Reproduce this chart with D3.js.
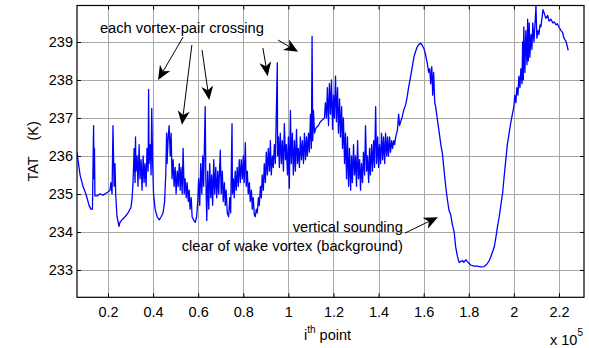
<!DOCTYPE html>
<html><head><meta charset="utf-8">
<script src="https://cdn.jsdelivr.net/npm/d3@7"></script>
<style>
html,body{margin:0;padding:0;background:#fff;}
svg text{font-family:"Liberation Sans",Arial,Helvetica,sans-serif;fill:#000;}
</style></head><body>
<svg id="chart" width="589" height="348"></svg>
<script>
// i-th point (in units of 1e5)
const pointIdx = [
0.062,0.067,0.076,0.089,0.102,0.116,0.124,0.131,0.136,0.138,0.140,0.142,0.151,0.164,0.178,0.191,0.200,0.209,0.213,0.218,
0.222,0.227,0.231,0.234,0.240,0.249,0.253,0.262,0.276,0.289,0.302,0.307,0.311,0.316,0.320,0.322,0.324,0.329,0.333,0.338,
0.342,0.347,0.351,0.356,0.360,0.364,0.369,0.373,0.378,0.380,0.382,0.387,0.391,0.394,0.398,0.402,0.409,0.418,0.427,0.436,
0.444,0.451,0.456,0.460,0.462,0.467,0.471,0.476,0.480,0.484,0.489,0.493,0.498,0.502,0.507,0.511,0.516,0.520,0.524,0.529,
0.533,0.538,0.542,0.547,0.551,0.556,0.560,0.564,0.569,0.573,0.579,0.587,0.593,0.598,0.602,0.607,0.611,0.616,0.620,0.624,
0.631,0.634,0.638,0.642,0.647,0.651,0.656,0.660,0.664,0.669,0.673,0.678,0.682,0.687,0.691,0.698,0.702,0.707,0.711,0.716,
0.720,0.724,0.729,0.735,0.740,0.744,0.750,0.752,0.756,0.760,0.764,0.769,0.773,0.778,0.782,0.787,0.791,0.796,0.800,0.804,
0.809,0.813,0.818,0.822,0.827,0.831,0.836,0.840,0.844,0.849,0.853,0.858,0.862,0.867,0.871,0.876,0.880,0.884,0.889,0.893,
0.898,0.902,0.907,0.911,0.916,0.920,0.924,0.929,0.933,0.938,0.942,0.951,0.952,0.956,0.960,0.964,0.969,0.973,0.978,0.982,
0.987,0.991,0.996,1.000,1.004,1.009,1.013,1.018,1.022,1.027,1.031,1.036,1.040,1.044,1.049,1.053,1.058,1.062,1.067,1.071,
1.076,1.080,1.084,1.089,1.093,1.098,1.102,1.105,1.108,1.111,1.116,1.120,1.124,1.133,1.142,1.151,1.160,1.164,1.169,1.173,
1.178,1.182,1.187,1.191,1.196,1.200,1.204,1.209,1.213,1.218,1.222,1.227,1.231,1.236,1.240,1.244,1.249,1.253,1.258,1.262,
1.267,1.271,1.276,1.280,1.284,1.289,1.293,1.298,1.302,1.307,1.311,1.316,1.320,1.324,1.329,1.333,1.338,1.342,1.347,1.351,
1.356,1.360,1.364,1.369,1.373,1.378,1.382,1.387,1.391,1.396,1.400,1.404,1.409,1.413,1.418,1.422,1.427,1.431,1.436,1.440,
1.444,1.449,1.453,1.458,1.462,1.467,1.471,1.476,1.484,1.489,1.493,1.498,1.505,1.511,1.520,1.527,1.533,1.542,1.551,1.557,
1.564,1.572,1.578,1.587,1.593,1.601,1.609,1.616,1.622,1.627,1.631,1.636,1.640,1.644,1.649,1.653,1.661,1.667,1.676,1.683,
1.689,1.698,1.704,1.712,1.720,1.727,1.735,1.742,1.750,1.757,1.764,1.772,1.778,1.787,1.796,1.809,1.822,1.836,1.853,1.868,
1.880,1.892,1.904,1.913,1.920,1.929,1.935,1.942,1.950,1.956,1.964,1.971,1.979,1.987,1.994,2.000,2.004,2.009,2.013,2.018,
2.022,2.027,2.031,2.036,2.039,2.042,2.044,2.049,2.053,2.058,2.061,2.064,2.068,2.071,2.076,2.080,2.084,2.089,2.093,2.098,
2.102,2.107,2.111,2.116,2.120,2.124,2.129,2.135,2.142,2.150,2.156,2.164,2.173,2.179,2.187,2.193,2.201,2.209,2.216,2.222,
2.231,2.236,2.241
];
// TAT (K)
const tat = [
236.1,235.9,235.5,235.2,235.0,234.7,234.6,234.6,236.8,235.4,236.2,234.95,234.95,235.0,234.97,235.02,235.05,235.1,235.3,235.0,
236.8,235.2,235.8,235.0,234.4,234.15,234.25,234.32,234.4,234.5,234.65,234.9,235.3,236.2,235.3,236.5,235.6,236.0,235.2,236.3,
235.4,235.9,235.1,236.0,235.3,235.8,235.2,236.2,235.6,237.75,235.8,236.3,235.5,237.25,235.8,235.0,234.6,234.4,234.32,234.4,
234.5,234.8,235.5,236.6,235.8,236.5,236.8,236.0,236.6,235.4,235.9,235.2,235.7,235.0,235.6,235.2,235.8,235.1,235.7,235.0,
236.2,235.0,235.4,234.9,235.3,234.8,235.1,234.6,234.9,234.4,234.32,234.25,234.4,234.8,235.4,234.7,235.8,235.0,236.0,235.2,
237.3,235.4,234.3,235.6,234.6,235.8,234.9,235.5,234.7,235.9,235.0,235.7,234.9,235.6,235.0,236.15,235.0,235.6,234.8,235.3,
234.7,235.1,234.5,234.4,234.9,234.5,236.85,235.0,235.4,234.9,235.6,235.1,235.7,235.2,235.9,235.3,235.9,235.4,236.0,235.3,
236.35,235.2,235.6,235.0,235.3,234.8,235.1,234.6,234.9,234.45,234.4,234.6,234.5,234.9,234.7,235.2,234.9,235.5,235.1,235.8,
235.3,236.1,235.5,236.2,235.6,236.4,235.5,236.0,235.7,236.3,235.8,238.45,236.0,236.5,235.7,236.6,235.8,236.4,235.6,236.85,
235.9,236.3,235.5,236.5,235.15,237.2,235.8,236.6,235.5,236.4,235.6,236.7,235.8,236.2,235.7,236.5,235.9,236.4,235.8,236.6,
235.9,236.5,236.0,236.6,236.1,237.1,236.2,239.15,236.4,237.2,236.6,236.7,236.75,236.8,236.9,236.95,237.0,237.4,237.0,237.8,
236.8,237.9,237.1,238.0,236.7,237.6,237.0,238.1,236.9,237.8,236.6,237.5,236.5,237.3,236.2,237.0,235.8,236.6,235.4,236.5,
235.2,236.2,235.1,236.0,235.3,236.3,235.5,236.0,235.2,236.4,235.4,235.9,235.1,235.8,235.3,236.1,235.5,236.8,235.6,236.0,
235.3,236.2,235.5,236.3,235.6,236.4,235.7,237.3,235.8,236.5,235.7,236.3,235.8,236.6,235.9,236.5,235.8,236.6,236.0,236.5,
236.0,236.5,236.1,236.4,236.2,236.4,236.3,236.5,236.7,237.1,236.8,236.9,237.03,237.2,237.35,237.56,237.8,238.09,238.4,238.61,
238.75,238.88,238.93,238.97,238.92,238.83,238.65,238.44,238.2,238.3,237.9,238.35,237.6,238.2,237.4,237.3,236.95,236.7,236.3,236.07,
235.7,235.19,234.9,234.58,234.45,234.2,234.0,233.6,233.35,233.2,233.22,233.25,233.2,233.27,233.2,233.13,233.1,233.1,233.08,233.09,
233.15,233.26,233.45,233.61,233.85,234.2,234.4,234.7,235.02,235.4,235.89,236.3,236.6,236.9,237.12,237.3,237.6,237.4,237.8,237.6,
238.1,237.8,238.3,237.9,239.0,238.0,239.4,238.2,239.3,238.4,239.6,238.5,239.5,238.6,239.2,238.8,239.5,239.0,239.4,239.95,
239.1,239.3,239.2,239.45,239.4,239.6,239.85,239.75,239.62,239.7,239.55,239.6,239.5,239.53,239.45,239.48,239.38,239.3,239.25,239.1,
239.02,238.9,238.78
];
const xTicks = [0.2,0.4,0.6,0.8,1,1.2,1.4,1.6,1.8,2,2.2];
const yTicks = [233,234,235,236,237,238,239];
const xDomain = [0.0625, 2.311];
const yDomain = [232.28, 239.96];

// annotation arrows (data coordinates): start -> tip
const arrowStart = [[0.533,239.13],[0.572,238.92],[0.617,238.79],[0.887,238.84],[0.954,239.05],[1.517,233.97]];
const arrowTip   = [[0.422,238.0],[0.528,236.82],[0.649,237.47],[0.908,238.1],[1.043,238.74],[1.663,234.39]];
const labelTop = "each vortex-pair crossing";
const labelBottom = ["vertical sounding","clear of wake vortex (background)"];

const svg = d3.select("#chart");
const L = 77, R = 584, T = 5.5, B = 297.3;
const x = d3.scaleLinear().domain(xDomain).range([L, R]);
const y = d3.scaleLinear().domain(yDomain).range([B, T]);

// grid
const grid = svg.append("g").attr("stroke","#a8a8a8").attr("stroke-width",1).attr("shape-rendering","crispEdges");
grid.selectAll(".gx").data(xTicks).enter().append("line")
  .attr("x1",d=>Math.round(x(d))+0.5).attr("x2",d=>Math.round(x(d))+0.5).attr("y1",T).attr("y2",B);
grid.selectAll(".gy").data(yTicks).enter().append("line")
  .attr("y1",d=>Math.round(y(d))+0.5).attr("y2",d=>Math.round(y(d))+0.5).attr("x1",L).attr("x2",R);

// data line
svg.append("clipPath").attr("id","clip").append("rect").attr("x",L).attr("y",T).attr("width",R-L).attr("height",B-T);
const pts = pointIdx.map((v,i)=>[v,tat[i]]);
svg.append("path").datum(pts).attr("clip-path","url(#clip)")
  .attr("fill","none").attr("stroke","#0000ff").attr("stroke-width",1.3).attr("stroke-linejoin","round")
  .attr("d", d3.line().x(d=>x(d[0])).y(d=>y(d[1])));

// axes
const fs = "14.5px";
const ax = svg.append("g").attr("transform",`translate(0,${B})`)
  .call(d3.axisBottom(x).tickValues(xTicks).tickSizeInner(-4).tickSizeOuter(0).tickPadding(9).tickFormat(d3.format("~g")));
const ay = svg.append("g").attr("transform",`translate(${L},0)`)
  .call(d3.axisLeft(y).tickValues(yTicks).tickSizeInner(-4).tickSizeOuter(0).tickPadding(4).tickFormat(d3.format("d")));
const at = svg.append("g").attr("transform",`translate(0,${T})`)
  .call(d3.axisTop(x).tickValues(xTicks).tickSizeInner(-4).tickSizeOuter(0).tickFormat(""));
const ar = svg.append("g").attr("transform",`translate(${R},0)`)
  .call(d3.axisRight(y).tickValues(yTicks).tickSizeInner(-4).tickSizeOuter(0).tickFormat(""));
[ax,ay,at,ar].forEach(g=>{
  g.select(".domain").remove();
  g.selectAll("line").attr("stroke","#000");
  g.selectAll("text").style("font-size",fs).style("font-family",'"Liberation Sans",Arial,sans-serif').attr("fill","#000");
});
svg.append("rect").attr("x",L).attr("y",T).attr("width",R-L).attr("height",B-T)
  .attr("fill","none").attr("stroke","#000").attr("stroke-width",1.2);

// axis labels
svg.append("text").attr("transform",`translate(38,${(T+B)/2}) rotate(-90)`)
  .attr("text-anchor","middle").style("font-size",fs).style("white-space","pre").text("TAT    (K)");
const xl = svg.append("text").attr("x",(L+R)/2 - 3).attr("y",340).attr("text-anchor","middle").style("font-size",fs);
xl.append("tspan").text("i");
xl.append("tspan").attr("dy",-7).style("font-size","10px").text("th");
xl.append("tspan").attr("dy",7).text(" point");
const xm = svg.append("text").attr("x",R-1).attr("y",345).attr("text-anchor","end").style("font-size",fs);
xm.append("tspan").text("x 10");
xm.append("tspan").attr("dy",-9).style("font-size","10px").text("5");

// annotations
const afs = "14.7px";
svg.append("text").attr("x",x(0.164)).attr("y",y(239.23)).style("font-size",afs).text(labelTop);
svg.append("text").attr("x",x(1.508)).attr("y",y(234.0)).attr("text-anchor","end").style("font-size",afs).text(labelBottom[0]);
svg.append("text").attr("x",x(1.508)).attr("y",y(233.51)).attr("text-anchor","end").style("font-size",afs).text(labelBottom[1]);

const ag = svg.append("g");
arrowStart.forEach((s,i)=>{
  const t = arrowTip[i];
  const sx=x(s[0]), sy=y(s[1]), tx=x(t[0]), ty=y(t[1]);
  const dx=tx-sx, dy=ty-sy, len=Math.hypot(dx,dy), ux=dx/len, uy=dy/len, px=-uy, py=ux;
  const hl=14, hw=6, notch=4;
  ag.append("line").attr("x1",sx).attr("y1",sy).attr("x2",tx-ux*(hl-notch)).attr("y2",ty-uy*(hl-notch))
    .attr("stroke","#000").attr("stroke-width",1);
  const p = [[tx,ty],[tx-ux*hl+px*hw,ty-uy*hl+py*hw],[tx-ux*(hl-notch),ty-uy*(hl-notch)],[tx-ux*hl-px*hw,ty-uy*hl-py*hw]];
  ag.append("path").attr("d","M"+p.map(q=>q.join(",")).join("L")+"Z").attr("fill","#000");
});
</script>
</body></html>
